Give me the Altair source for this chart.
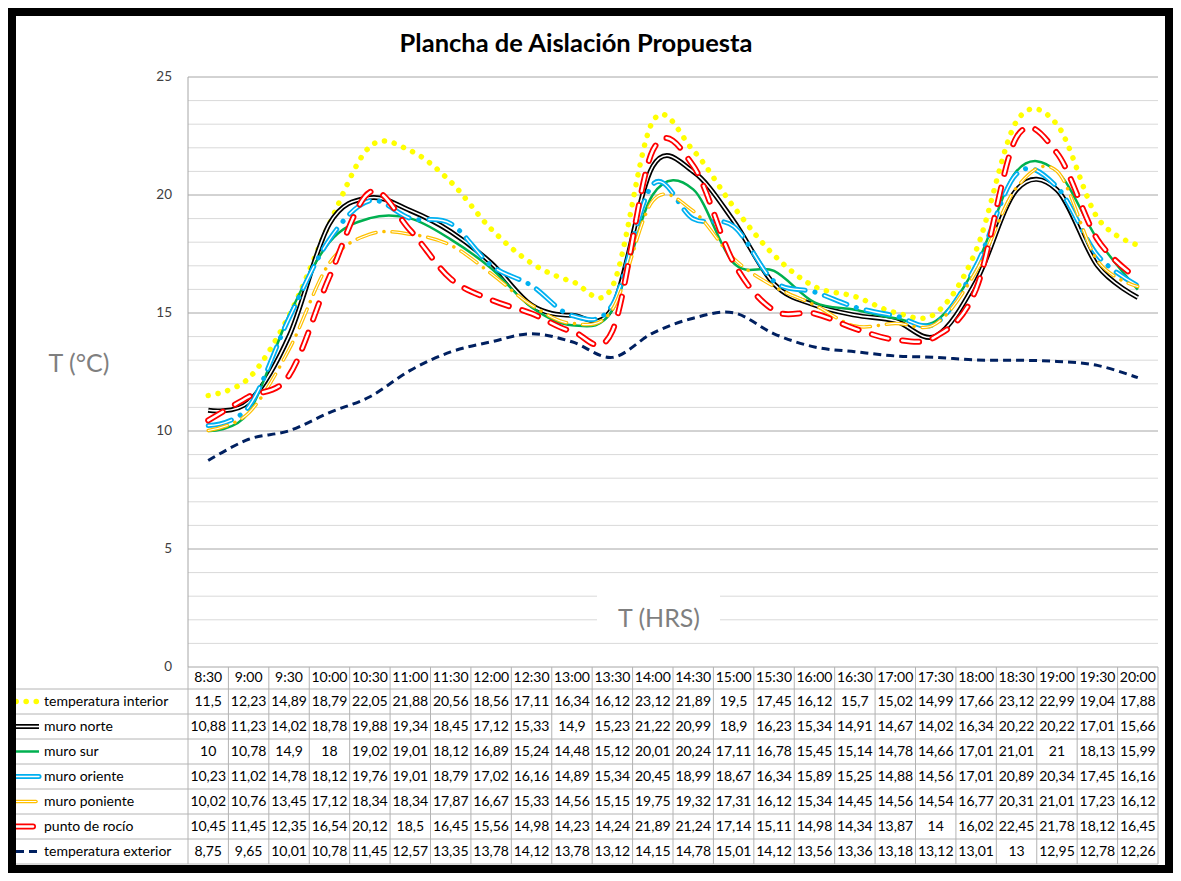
import altair as alt
import pandas as pd

# ---------------- data ----------------
times = ["8:30", "9:00", "9:30", "10:00", "10:30", "11:00", "11:30", "12:00",
         "12:30", "13:00", "13:30", "14:00", "14:30", "15:00", "15:30", "16:00",
         "16:30", "17:00", "17:30", "18:00", "18:30", "19:00", "19:30", "20:00"]

names = ["temperatura interior", "muro norte", "muro sur", "muro oriente",
         "muro poniente", "punto de rocío", "temperatura exterior"]

temperatura_interior = [11.5, 12.23, 14.89, 18.79, 22.05, 21.88, 20.56, 18.56, 17.11, 16.34, 16.12, 23.12,
                        21.89, 19.5, 17.45, 16.12, 15.7, 15.02, 14.99, 17.66, 23.12, 22.99, 19.04, 17.88]
muro_norte = [10.88, 11.23, 14.02, 18.78, 19.88, 19.34, 18.45, 17.12, 15.33, 14.9, 15.23, 21.22,
              20.99, 18.9, 16.23, 15.34, 14.91, 14.67, 14.02, 16.34, 20.22, 20.22, 17.01, 15.66]
muro_sur = [10, 10.78, 14.9, 18, 19.02, 19.01, 18.12, 16.89, 15.24, 14.48, 15.12, 20.01,
            20.24, 17.11, 16.78, 15.45, 15.14, 14.78, 14.66, 17.01, 21.01, 21, 18.13, 15.99]
muro_oriente = [10.23, 11.02, 14.78, 18.12, 19.76, 19.01, 18.79, 17.02, 16.16, 14.89, 15.34, 20.45,
                18.99, 18.67, 16.34, 15.89, 15.25, 14.88, 14.56, 17.01, 20.89, 20.34, 17.45, 16.16]
muro_poniente = [10.02, 10.76, 13.45, 17.12, 18.34, 18.34, 17.87, 16.67, 15.33, 14.56, 15.15, 19.75,
                 19.32, 17.31, 16.12, 15.34, 14.45, 14.56, 14.54, 16.77, 20.31, 21.01, 17.23, 16.12]
punto_de_rocio = [10.45, 11.45, 12.35, 16.54, 20.12, 18.5, 16.45, 15.56, 14.98, 14.23, 14.24, 21.89,
                  21.24, 17.14, 15.11, 14.98, 14.34, 13.87, 14, 16.02, 22.45, 21.78, 18.12, 16.45]
temperatura_exterior = [8.75, 9.65, 10.01, 10.78, 11.45, 12.57, 13.35, 13.78, 14.12, 13.78, 13.12, 14.15,
                        14.78, 15.01, 14.12, 13.56, 13.36, 13.18, 13.12, 13.01, 13, 12.95, 12.78, 12.26]

series_values = [temperatura_interior, muro_norte, muro_sur, muro_oriente,
                 muro_poniente, punto_de_rocio, temperatura_exterior]

y_ticks = [0, 5, 10, 15, 20, 25]

# ---------------- layout ----------------
FONT = "Lato"
W, H = 970, 787
YMAX = 25.0
PX = 590.0 / YMAX            # pixels per degree
YMIN = YMAX - H / PX
HDR = 22.0                   # header row height (px)
ROW = 25.0                   # table row height (px)


def py(px_below_zero):
    return -px_below_zero / PX


xsc = alt.Scale(domain=[-0.5, len(times) - 0.5], nice=False, zero=False)
ysc = alt.Scale(domain=[YMIN, YMAX], nice=False, zero=False)


def X(f):
    return alt.X(f, scale=xsc, axis=None)


def Y(f):
    return alt.Y(f, scale=ysc, axis=None)


def fmt(v):
    return f"{v:g}".replace(".", ",")


lines_df = pd.DataFrame([{"series": n, "i": i, "v": v}
                         for n, vals in zip(names, series_values) for i, v in enumerate(vals)])
cells_df = pd.DataFrame([{"series": n, "i": i, "label": fmt(v), "ty": py(HDR + ROW * k + ROW / 2)}
                         for k, (n, vals) in enumerate(zip(names, series_values))
                         for i, v in enumerate(vals)])
header_df = pd.DataFrame({"i": list(range(len(times))), "t": times, "ty": py(HDR / 2)})
names_df = pd.DataFrame({"series": names,
                         "ty": [py(HDR + ROW * k + ROW / 2) for k in range(len(names))]})
grid_df = pd.DataFrame({"v": list(range(int(YMAX) + 1))})
grid_df["major"] = grid_df["v"] % 5 == 0
ticks_df = pd.DataFrame({"v": y_ticks, "lab": [str(t) for t in y_ticks]})
hlines_df = pd.DataFrame({"y": [py(HDR + ROW * k) for k in range(len(names) + 1)]})
vlines_df = pd.DataFrame({"x": [i - 0.5 for i in range(len(times) + 1)], "y0": 0.0, "y1": YMIN})
axis_df = pd.DataFrame({"y0": [YMAX], "y1": [0.0]})
one = pd.DataFrame({"a": [0]})

# ---------------- layers ----------------
layers = []

# gridlines
layers.append(
    alt.Chart(grid_df).transform_filter("!datum.major").mark_rule(color="#D9D9D9", strokeWidth=1).encode(
        y=Y("v:Q"), x=alt.value(0), x2=alt.value(W))
)
layers.append(
    alt.Chart(grid_df).transform_filter("datum.major").mark_rule(color="#A6A6A6", strokeWidth=1).encode(
        y=Y("v:Q"), x=alt.value(0), x2=alt.value(W))
)
# y axis line and labels
layers.append(
    alt.Chart(axis_df).mark_rule(color="#A6A6A6", strokeWidth=1).encode(
        x=alt.value(0), y=Y("y0:Q"), y2="y1:Q")
)
layers.append(
    alt.Chart(ticks_df).mark_text(font=FONT, fontSize=13.5, color="#404040",
                                  align="right", baseline="middle").encode(
        x=alt.value(-16), y=Y("v:Q"), text="lab:N")
)

# T (HRS) box
layers.append(
    alt.Chart(one).mark_rect(fill="white").encode(
        x=alt.value(409), x2=alt.value(532), y=alt.value(518), y2=alt.value(565))
)
layers.append(
    alt.Chart(one).mark_text(text="T (HRS)", font=FONT, fontSize=25, color="#7F7F7F",
                             align="center", baseline="middle").encode(
        x=alt.value(471), y=alt.value(542))
)
layers.append(
    alt.Chart(one).mark_text(text="T (°C)", font=FONT, fontSize=25, color="#7F7F7F",
                             align="center", baseline="middle").encode(
        x=alt.value(-109), y=alt.value(287))
)
layers.append(
    alt.Chart(one).mark_text(text="Plancha de Aislación Propuesta", font=FONT, fontSize=25.5,
                             fontWeight="bold", color="#000000",
                             align="center", baseline="middle").encode(
        x=alt.value(388), y=alt.value(-33))
)

# table grid
layers.append(
    alt.Chart(hlines_df).mark_rule(color="#B4B4B4", strokeWidth=1).encode(
        y=Y("y:Q"), x=alt.value(-174), x2=alt.value(W))
)
layers.append(
    alt.Chart(vlines_df).mark_rule(color="#B4B4B4", strokeWidth=1).encode(
        x=X("x:Q"), y=Y("y0:Q"), y2="y1:Q")
)

# table text
layers.append(
    alt.Chart(header_df).mark_text(font=FONT, fontSize=14, color="#000000",
                                   align="center", baseline="middle").encode(
        x=X("i:Q"), y=Y("ty:Q"), text="t:N")
)
layers.append(
    alt.Chart(cells_df).mark_text(font=FONT, fontSize=14, color="#000000",
                                  align="center", baseline="middle").encode(
        x=X("i:Q"), y=Y("ty:Q"), text="label:N")
)
layers.append(
    alt.Chart(names_df).mark_text(font=FONT, fontSize=14, color="#000000",
                                  align="left", baseline="middle").encode(
        x=alt.value(-144), y=Y("ty:Q"), text="series:N")
)

# series styles (each series may be drawn in several passes for compound lines)
styles = {
    "temperatura interior": [dict(stroke="#FFFF00", strokeWidth=5.5, strokeDash=[0.1, 10], strokeCap="round")],
    "muro norte": [dict(stroke="#000000", strokeWidth=5), dict(stroke="#FFFFFF", strokeWidth=1.6)],
    "muro sur": [dict(stroke="#00B050", strokeWidth=2.5)],
    "muro oriente": [dict(stroke="#00B0F0", strokeWidth=5, strokeDash=[24, 10, 0.1, 10], strokeCap="round"),
                     dict(stroke="#FFFFFF", strokeWidth=1.4, strokeDash=[24, 20.1], strokeCap="round")],
    "muro poniente": [dict(stroke="#FFC000", strokeWidth=3.5, strokeDash=[20, 8, 0.1, 8], strokeCap="round"),
                      dict(stroke="#FFFFFF", strokeWidth=1.1, strokeDash=[20, 16.1], strokeCap="round")],
    "punto de rocío": [dict(stroke="#FF0000", strokeWidth=6, strokeDash=[17, 14], strokeCap="round"),
                       dict(stroke="#FFFFFF", strokeWidth=2.4, strokeDash=[17, 14], strokeCap="round")],
    "temperatura exterior": [dict(stroke="#002060", strokeWidth=3, strokeDash=[8, 5])],
}

for n in names:
    for st in styles[n]:
        layers.append(
            alt.Chart(lines_df).transform_filter(alt.datum.series == n)
            .mark_line(interpolate="cardinal", strokeJoin="round", **st).encode(
                x=X("i:Q"), y=Y("v:Q"))
        )
        layers.append(
            alt.Chart(names_df).transform_filter(alt.datum.series == n)
            .mark_rule(**st).encode(
                x=alt.value(-172), x2=alt.value(-149), y=Y("ty:Q"))
        )

# outer frame
layers.append(
    alt.Chart(one).mark_rect(filled=False, stroke="#000000", strokeWidth=8).encode(
        x=alt.value(-176), x2=alt.value(981), y=alt.value(-65), y2=alt.value(792))
)

chart = alt.layer(*layers).properties(
    width=W, height=H,
    padding={"left": 180, "top": 69, "right": 15, "bottom": 9},
    autosize=alt.AutoSizeParams(type="none"),
    background="white",
).configure_view(stroke=None)

chart.save("out.html", embed_options={"renderer": "svg", "actions": False})
